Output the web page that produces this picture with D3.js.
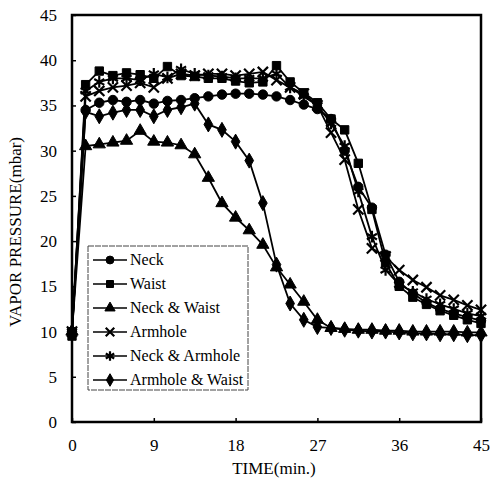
<!DOCTYPE html>
<html lang="en">
<head>
    <meta charset="UTF-8">
    <title>Vapor pressure</title>
    <script src="https://cdn.jsdelivr.net/npm/d3@7"></script>
    <style>
        body { margin: 0; background: #fff; }
    </style>
</head>
<body>
    <script>
        // time points (min.)
        const times = [0, 1.5, 3, 4.5, 6, 7.5, 9, 10.5, 12, 13.5, 15, 16.5, 18, 19.5, 21, 22.5,
            24, 25.5, 27, 28.5, 30, 31.5, 33, 34.5, 36, 37.5, 39, 40.5, 42, 43.5, 45];

        const neck = [10, 34.5, 35.3, 35.6, 35.4, 35.6, 35.2, 35.5, 35.6, 35.8, 36, 36.2, 36.3, 36.3, 36.2, 36,
            35.6, 35.1, 34.6, 33.5, 30, 26, 23.7, 18.5, 15.5, 14.2, 13.2, 12.5, 12, 11.6, 11.2];
        const waist = [9.5, 37.3, 38.8, 38.3, 38.6, 38.4, 38, 39.3, 38.3, 38.2, 38, 38, 37.7, 37.5, 37.6, 39.4,
            37.6, 36.4, 35.3, 33.5, 32.3, 28.6, 23.5, 17.6, 15, 13.8, 13, 12.3, 11.8, 11.3, 10.9];
        const neckWaist = [10, 30.5, 30.7, 30.9, 31.1, 32.2, 31, 30.9, 30.6, 29.6, 27, 24.2, 22.6, 21.2, 19.6, 17.1,
            15.2, 13.3, 11.3, 10.4, 10.3, 10.2, 10.2, 10.1, 10.1, 10, 10, 10, 10, 9.9, 9.9];
        const armhole = [10, 36, 36.6, 37, 37.2, 37.5, 37, 38, 38.5, 38.3, 38.5, 38.5, 38.3, 38.5, 38.7, 37.8,
            37, 36.3, 35, 32, 29, 23.5, 19.2, 18.3, 16.8, 15.7, 14.9, 14, 13.5, 12.9, 12.4];
        const neckArmhole = [10, 36.6, 37.6, 38, 38, 37.8, 38.5, 38.1, 39, 38.5, 38.3, 38.2, 38, 38, 38, 38.5,
            37, 36, 35, 33, 30.5, 25.5, 20.5, 16.8, 15.2, 14.4, 13.6, 13, 12.5, 12, 11.7];
        const armholeWaist = [10, 34.3, 33.8, 34.2, 34.5, 34.5, 33.8, 34.5, 34.8, 35.2, 32.9, 32.3, 31, 28.9, 24.2, 17.4,
            13.1, 11.3, 10.5, 10.4, 10.2, 10.1, 10, 10, 9.9, 9.8, 9.8, 9.7, 9.7, 9.6, 9.6];

        const seriesNames = ["Neck", "Waist", "Neck & Waist", "Armhole", "Neck & Armhole", "Armhole & Waist"];
        const seriesValues = [neck, waist, neckWaist, armhole, neckArmhole, armholeWaist];

        const xTicks = [0, 9, 18, 27, 36, 45];
        const yTicks = [0, 5, 10, 15, 20, 25, 30, 35, 40, 45];

        // marker per series: [symbol type, filled?, size]
        const markers = [
            [d3.symbolCircle, true, 70],
            [d3.symbolSquare, true, 70],
            [d3.symbolTriangle, true, 65],
            [d3.symbolTimes, false, 70],
            [d3.symbolAsterisk, false, 95],
            [d3.symbolDiamond, true, 65]
        ];

        const serif = "Liberation Serif";

        var width = 491,
            height = 487;
        var svg = d3.select('body').append('svg')
            .attr('width', width)
            .attr('height', height);

        const x = d3.scaleLinear().domain([0, 45]).range([72, 481]);
        const y = d3.scaleLinear().domain([0, 45]).range([422, 15]);

        // frame
        svg.append("rect")
            .attr("x", x(0)).attr("y", y(45))
            .attr("width", x(45) - x(0)).attr("height", y(0) - y(45))
            .attr("fill", "none").attr("stroke", "#000").attr("stroke-width", 2.5);

        // axes with inward ticks
        const xAxis = svg.append("g")
            .attr("transform", "translate(0," + y(0) + ")")
            .call(d3.axisBottom(x).tickValues(xTicks).tickSizeInner(-4).tickSizeOuter(0).tickPadding(17));
        const yAxis = svg.append("g")
            .attr("transform", "translate(" + x(0) + ",0)")
            .call(d3.axisLeft(y).tickValues(yTicks).tickSizeInner(-4).tickSizeOuter(0).tickPadding(15));
        [xAxis, yAxis].forEach(function (g) {
            g.attr("font-family", null).attr("font-size", null);
            g.select(".domain").remove();
            g.selectAll(".tick line").attr("stroke", "#000").attr("stroke-width", 1.5);
            g.selectAll(".tick text")
                .style("font-family", serif)
                .style("font-size", "17px");
        });

        // axis titles
        svg.append("text")
            .attr("x", 274).attr("y", 474)
            .attr("text-anchor", "middle")
            .style("font-family", serif)
            .style("font-size", "17px")
            .text("TIME(min.)");
        svg.append("text")
            .attr("transform", "translate(21,232) rotate(-90)")
            .attr("text-anchor", "middle")
            .style("font-family", serif)
            .style("font-size", "17px")
            .text("VAPOR PRESSURE(mbar)");

        const line = d3.line()
            .x((d, i) => x(times[i]))
            .y(d => y(d));

        function drawMarker(g, k, cx, cy, scale) {
            const m = markers[k];
            g.append("path")
                .attr("transform", "translate(" + cx + "," + cy + ")")
                .attr("d", d3.symbol().type(m[0]).size(m[2] * (scale || 1))())
                .attr("fill", m[1] ? "#000" : "none")
                .attr("stroke", "#000")
                .attr("stroke-width", m[1] ? 1 : 2.2);
        }

        seriesValues.forEach(function (vals, k) {
            const g = svg.append("g");
            g.append("path")
                .datum(vals)
                .attr("d", line)
                .attr("fill", "none")
                .attr("stroke", "#000")
                .attr("stroke-width", 1.8);
            vals.forEach(function (v, i) {
                drawMarker(g, k, x(times[i]), y(v));
            });
        });

        // legend
        const lg = svg.append("g");
        lg.append("rect")
            .attr("x", 88).attr("y", 246)
            .attr("width", 160).attr("height", 144)
            .attr("fill", "#fff")
            .attr("stroke", "#444").attr("stroke-width", 1)
            .attr("stroke-dasharray", "6,1");
        seriesNames.forEach(function (name, k) {
            const ly = 260 + k * 24;
            lg.append("line")
                .attr("x1", 93).attr("x2", 127)
                .attr("y1", ly).attr("y2", ly)
                .attr("stroke", "#000").attr("stroke-width", 1.5);
            drawMarker(lg, k, 110, ly, 0.7);
            lg.append("text")
                .attr("x", 130).attr("y", ly + 5)
                .style("font-family", serif)
                .style("font-size", "16px")
                .text(name);
        });
    </script>
</body>
</html>
